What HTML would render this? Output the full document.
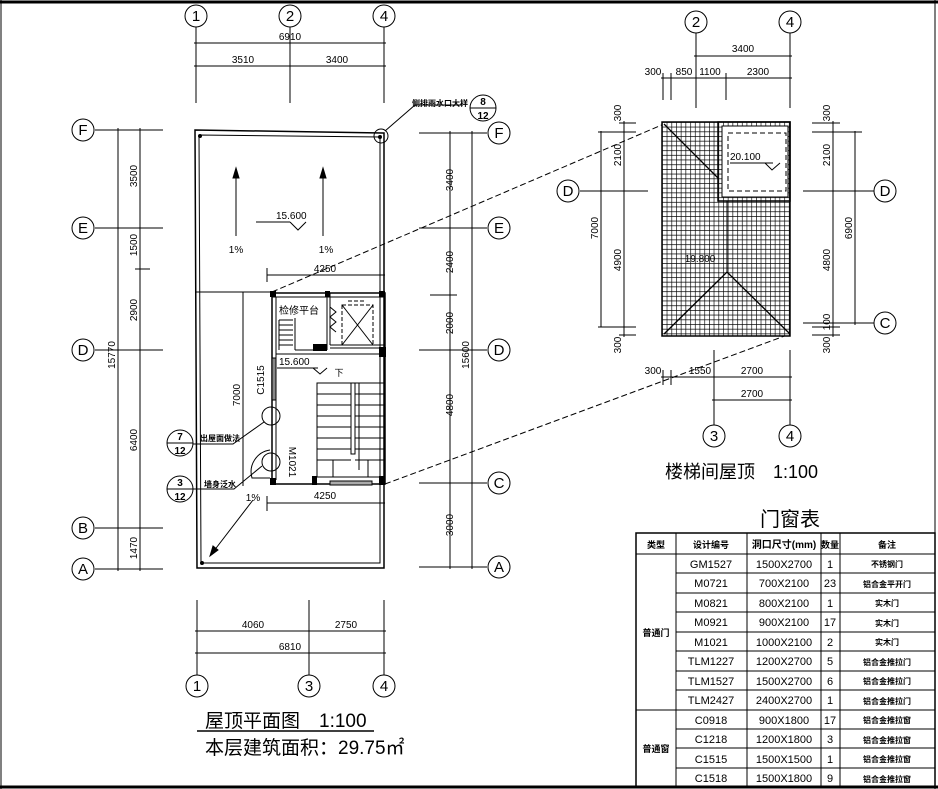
<!DOCTYPE html>
<html><head><meta charset="utf-8"><style>
html,body{margin:0;padding:0;background:#fff}
svg{display:block}
text{font-family:"Liberation Sans","Noto Sans CJK SC",sans-serif;fill:#000}
</style></head><body>
<svg width="938" height="789" viewBox="0 0 938 789" xmlns="http://www.w3.org/2000/svg">
<defs>
<pattern id="tile" x="662" y="122" width="4.7" height="4.7" patternUnits="userSpaceOnUse">
<rect width="4.7" height="4.7" fill="#fff"/>
<path d="M0 0H4.7M0 0V4.7" stroke="#000" stroke-width="1.3"/>
</pattern>
</defs>
<g stroke="#000" fill="none" stroke-width="1">
<line x1="0" y1="2" x2="938" y2="2" stroke-width="3"/>
<line x1="0" y1="787" x2="938" y2="787" stroke-width="3"/>
<line x1="1" y1="0" x2="1" y2="789"/>
<line x1="935" y1="0" x2="935" y2="789"/>

<line x1="196" y1="27" x2="196" y2="103"/>
<line x1="290" y1="27" x2="290" y2="103"/>
<line x1="384" y1="27" x2="384" y2="103"/>
<line x1="194" y1="43" x2="386" y2="43"/>
<line x1="194" y1="66" x2="386" y2="66"/>
<circle cx="196" cy="16" r="11"/><circle cx="290" cy="16" r="11"/><circle cx="384" cy="16" r="11"/>

<path d="M195 130 L384 133 L384 568 L197 568 Z" stroke-width="1.5"/>
<path d="M199 135 L380 137 L380 563 L201 563 Z"/>
<line x1="195" y1="292" x2="272" y2="292"/>
<line x1="243" y1="292" x2="243" y2="486"/>

<g>
<line x1="95" y1="130" x2="163" y2="130"/><line x1="95" y1="228" x2="163" y2="228"/>
<line x1="95" y1="350" x2="163" y2="350"/><line x1="95" y1="528" x2="163" y2="528"/>
<line x1="95" y1="569" x2="163" y2="569"/>
<line x1="118" y1="128" x2="118" y2="571"/><line x1="140" y1="128" x2="140" y2="571"/>
<line x1="135" y1="269" x2="150" y2="269"/>
<circle cx="83" cy="130" r="11"/><circle cx="83" cy="228" r="11"/><circle cx="83" cy="350" r="11"/>
<circle cx="83" cy="528" r="11"/><circle cx="83" cy="569" r="11"/>
</g>
<g>
<line x1="419" y1="133" x2="487" y2="133"/><line x1="419" y1="228" x2="487" y2="228"/>
<line x1="419" y1="350" x2="487" y2="350"/><line x1="419" y1="483" x2="487" y2="483"/>
<line x1="419" y1="567" x2="487" y2="567"/>
<line x1="450" y1="131" x2="450" y2="569"/><line x1="472" y1="131" x2="472" y2="569"/>
<line x1="430" y1="295" x2="457" y2="295"/>
<circle cx="499" cy="133" r="11"/><circle cx="499" cy="228" r="11"/><circle cx="499" cy="350" r="11"/>
<circle cx="499" cy="483" r="11"/><circle cx="499" cy="567" r="11"/>
</g>

<line x1="267" y1="275" x2="385" y2="275"/><line x1="267" y1="268" x2="267" y2="282"/>
<line x1="267" y1="503" x2="385" y2="503"/><line x1="267" y1="496" x2="267" y2="511"/>

<rect x="272" y="293" width="113" height="191" stroke-width="1.5"/>
<line x1="276" y1="297" x2="276" y2="480"/>
<line x1="380" y1="297" x2="380" y2="480"/>
<line x1="272" y1="297" x2="385" y2="297"/>
<line x1="327" y1="293" x2="327" y2="350"/><line x1="330" y1="293" x2="330" y2="345"/>
<line x1="295" y1="350" x2="327" y2="350"/><line x1="295" y1="318" x2="295" y2="350"/>
<line x1="276" y1="354" x2="385" y2="354"/>
<line x1="330" y1="345" x2="385" y2="345"/><line x1="330" y1="348" x2="385" y2="348"/>
<path d="M279 320H293M279 325H293M279 330H293M279 335H293M279 340H293M279 345H293M279 320V350"/>
<path d="M330 307 L336 312 L330 317 L336 322 L330 327 L336 332" />
<rect x="342" y="305" width="31" height="40" stroke-dasharray="4,2"/>
<line x1="342" y1="305" x2="373" y2="345"/><line x1="373" y1="305" x2="342" y2="345"/>
<line x1="348" y1="301" x2="366" y2="301" stroke-dasharray="4,2"/>
<rect x="272" y="358" width="4" height="42" fill="#888"/>
<rect x="317" y="383" width="67" height="94"/>
<rect x="351" y="383" width="4" height="71"/>
<path d="M317 394H351M317 405H351M317 416H351M317 427H351M317 438H351M317 449H351M317 460H351
M355 394H384M355 405H384M355 416H384M355 427H384M355 438H384M355 449H384M355 460H384"/>
<path d="M333 460V477M368 460V477M359 383V470"/>
<rect x="330" y="481" width="42" height="4" fill="#aaa"/>
<g fill="#000" stroke="none">
<rect x="270" y="291" width="6" height="6"/><rect x="325" y="291" width="5" height="6"/>
<rect x="379" y="291" width="6" height="6"/><rect x="313" y="344" width="14" height="7"/>
<rect x="379" y="347" width="7" height="10"/><rect x="270" y="478" width="6" height="7"/>
<rect x="312" y="476" width="5" height="9"/><rect x="379" y="476" width="6" height="9"/>
<circle cx="200" cy="136" r="2"/><circle cx="380" cy="137" r="2"/><circle cx="202" cy="563" r="2"/>
</g>
<path d="M270 450 A22 22 0 0 0 252 478 L270 478" />
<line x1="256" y1="222" x2="290" y2="222"/><path d="M290 222 L298 230 L306 222"/>
<line x1="277" y1="368" x2="318" y2="368"/><path d="M313 368 L320 374 L327 368"/>
<line x1="236" y1="168" x2="236" y2="236"/><path d="M236 168 L233 178 L239 178 Z" fill="#000"/>
<line x1="323" y1="168" x2="323" y2="236"/><path d="M323 168 L320 178 L326 178 Z" fill="#000"/>
<line x1="253" y1="500" x2="210" y2="556"/><path d="M210 556 L213 546 L218 550 Z" fill="#000"/>
<circle cx="381" cy="136" r="7"/>
<path d="M385 131 L415 105 L463 105"/>
<circle cx="483" cy="108" r="13"/><line x1="470" y1="108" x2="496" y2="108"/>
<circle cx="180" cy="443" r="13"/><line x1="167" y1="443" x2="193" y2="443"/>
<path d="M193 444 L233 444 L264 422"/><circle cx="271" cy="416" r="9"/>
<circle cx="180" cy="489" r="13"/><line x1="167" y1="489" x2="193" y2="489"/>
<path d="M193 489 L234 489 L262 466"/><circle cx="271" cy="462" r="9"/>

<line x1="197" y1="600" x2="197" y2="675"/><line x1="309" y1="600" x2="309" y2="675"/>
<line x1="384" y1="600" x2="384" y2="675"/>
<line x1="195" y1="631" x2="386" y2="631"/><line x1="195" y1="653" x2="386" y2="653"/>
<circle cx="197" cy="686" r="11"/><circle cx="309" cy="686" r="11"/><circle cx="384" cy="686" r="11"/>
<line x1="197" y1="731" x2="374" y2="731" stroke-width="1.5"/>

<line x1="272" y1="292" x2="664" y2="124" stroke-dasharray="6,3"/>
<line x1="385" y1="484" x2="790" y2="334" stroke-dasharray="6,3"/>

<rect x="662" y="122" width="128" height="214" fill="url(#tile)" stroke-width="1.5"/>
<rect x="718" y="122" width="72" height="79" fill="url(#tile)" stroke-width="1.5"/>
<rect x="722" y="126" width="66" height="71" fill="#fff"/>
<rect x="728" y="133" width="58" height="58" stroke-dasharray="5,3"/>
<line x1="664" y1="124" x2="718" y2="178" stroke-width="1.3"/>
<path d="M664 334 L727 272 L790 334" stroke-width="1.3"/>
<line x1="727" y1="201" x2="727" y2="272"/>
<line x1="730" y1="163" x2="773" y2="163"/><path d="M765 163 L772 170 L780 163"/>
<circle cx="696" cy="22" r="11"/><circle cx="790" cy="22" r="11"/>
<line x1="696" y1="33" x2="696" y2="108"/><line x1="790" y1="33" x2="790" y2="108"/>
<line x1="694" y1="56" x2="792" y2="56"/>
<line x1="661" y1="78" x2="792" y2="78"/>
<line x1="663" y1="73" x2="663" y2="100"/><line x1="671" y1="73" x2="671" y2="100"/>
<line x1="726" y1="73" x2="726" y2="100"/>
<line x1="714" y1="350" x2="714" y2="425"/><line x1="790" y1="350" x2="790" y2="425"/>
<line x1="661" y1="377" x2="792" y2="377"/><line x1="712" y1="400" x2="792" y2="400"/>
<line x1="663" y1="370" x2="663" y2="385"/><line x1="671" y1="370" x2="671" y2="385"/>
<circle cx="714" cy="436" r="11"/><circle cx="790" cy="436" r="11"/>
<line x1="580" y1="191" x2="648" y2="191"/>
<line x1="601" y1="131" x2="601" y2="327"/><line x1="624" y1="121" x2="624" y2="337"/>
<path d="M598 132H636M619 123H636M598 327H636M619 335H636"/>
<circle cx="568" cy="191" r="11"/>
<line x1="803" y1="191" x2="874" y2="191"/><line x1="803" y1="323" x2="874" y2="323"/>
<line x1="833" y1="121" x2="833" y2="337"/><line x1="855" y1="131" x2="855" y2="325"/>
<path d="M812 132H862M812 123H840M812 327H840M812 335H840"/>
<circle cx="885" cy="191" r="11"/><circle cx="885" cy="323" r="11"/>

<rect x="636" y="533" width="299" height="254" stroke-width="1.5"/>
<line x1="636" y1="554" x2="935" y2="554"/>
<path d="M676 533V787M747 533V787M821 533V787M840 533V787"/>
<path d="M676 573H935M676 593H935M676 612H935M676 632H935M676 651H935M676 671H935M676 690H935M676 729H935M676 748H935M676 768H935"/>
<line x1="636" y1="710" x2="935" y2="710"/>
</g>

<g font-size="10" text-anchor="middle">
<g font-family="Liberation Serif,serif" font-size="15">
<text x="196" y="21">1</text><text x="290" y="21">2</text><text x="384" y="21">4</text>
<text x="83" y="135">F</text><text x="83" y="233">E</text><text x="83" y="355">D</text><text x="83" y="533">B</text><text x="83" y="574">A</text>
<text x="499" y="138">F</text><text x="499" y="233">E</text><text x="499" y="355">D</text><text x="499" y="488">C</text><text x="499" y="572">A</text>
<text x="197" y="691">1</text><text x="309" y="691">3</text><text x="384" y="691">4</text>
<text x="696" y="27">2</text><text x="790" y="27">4</text>
<text x="714" y="441">3</text><text x="790" y="441">4</text>
<text x="568" y="196">D</text><text x="885" y="196">D</text><text x="885" y="328">C</text>
</g>
<text x="290" y="40">6910</text>
<text x="243" y="63">3510</text><text x="337" y="63">3400</text>
<text x="236" y="253">1%</text><text x="326" y="253">1%</text>
<text x="325" y="272">4250</text><text x="325" y="499">4250</text>
<text x="253" y="501">1%</text>
<text x="253" y="628">4060</text><text x="346" y="628">2750</text><text x="290" y="650">6810</text>
<text x="299" y="314" fill="#777">检修平台</text>
<text x="276" y="219" text-anchor="start">15.600</text>
<text x="279" y="365" text-anchor="start">15.600</text>
<text x="339" y="376" font-size="9">下</text>
<g font-size="8" font-weight="bold">
<text x="440" y="106">侧排雨水口大样</text>
<text x="220" y="441">出屋面做法</text>
<text x="220" y="487">墙身泛水</text>
</g>
<g font-size="10" font-weight="bold">
<text x="483" y="105">8</text><text x="483" y="119">12</text>
<text x="180" y="440">7</text><text x="180" y="454">12</text>
<text x="180" y="486">3</text><text x="180" y="500">12</text>
</g>
<text transform="translate(137,176) rotate(-90)">3500</text>
<text transform="translate(137,245) rotate(-90)">1500</text>
<text transform="translate(137,310) rotate(-90)">2900</text>
<text transform="translate(115,355) rotate(-90)">15770</text>
<text transform="translate(137,440) rotate(-90)">6400</text>
<text transform="translate(137,548) rotate(-90)">1470</text>
<text transform="translate(453,180) rotate(-90)">3400</text>
<text transform="translate(453,262) rotate(-90)">2400</text>
<text transform="translate(453,323) rotate(-90)">2000</text>
<text transform="translate(469,355) rotate(-90)">15600</text>
<text transform="translate(453,405) rotate(-90)">4800</text>
<text transform="translate(453,525) rotate(-90)">3000</text>
<text transform="translate(240,395) rotate(-90)">7000</text>
<text transform="translate(264,380) rotate(-90)">C1515</text>
<text transform="translate(289,462) rotate(90)">M1021</text>
<text x="743" y="52">3400</text>
<text x="653" y="75">300</text><text x="684" y="75">850</text><text x="710" y="75">1100</text><text x="758" y="75">2300</text>
<text x="653" y="374">300</text><text x="700" y="374">1550</text><text x="752" y="374">2700</text><text x="752" y="397">2700</text>
<text transform="translate(621,113) rotate(-90)">300</text>
<text transform="translate(621,155) rotate(-90)">2100</text>
<text transform="translate(598,228) rotate(-90)">7000</text>
<text transform="translate(621,260) rotate(-90)">4900</text>
<text transform="translate(621,345) rotate(-90)">300</text>
<text transform="translate(830,113) rotate(-90)">300</text>
<text transform="translate(830,155) rotate(-90)">2100</text>
<text transform="translate(830,260) rotate(-90)">4800</text>
<text transform="translate(852,228) rotate(-90)">6900</text>
<text transform="translate(830,322) rotate(-90)">100</text>
<text transform="translate(830,345) rotate(-90)">300</text>
<text x="730" y="160" text-anchor="start">20.100</text>
<text x="700" y="262">19.800</text>
</g>

<text x="205" y="727" font-size="19">屋顶平面图　1:100</text>
<text x="205" y="754" font-size="19">本层建筑面积：29.75㎡</text>
<text x="665" y="478" font-size="18">楼梯间屋顶　1:100</text>
<text x="790" y="526" font-size="20" text-anchor="middle">门窗表</text>

<g font-size="11" text-anchor="middle">
<g font-size="9" font-weight="bold">
<text x="656" y="548">类型</text><text x="711" y="548">设计编号</text><text x="830" y="548">数量</text><text x="887" y="548">备注</text>
</g>
<text x="784" y="548" font-size="10" font-weight="bold">洞口尺寸(mm)</text>
<g font-size="9" font-weight="bold"><text x="656" y="636">普通门</text><text x="656" y="752">普通窗</text></g>
<g>
<text x="711" y="568">GM1527</text><text x="784" y="568">1500X2700</text><text x="830" y="568">1</text>
<text x="711" y="587">M0721</text><text x="784" y="587">700X2100</text><text x="830" y="587">23</text>
<text x="711" y="607">M0821</text><text x="784" y="607">800X2100</text><text x="830" y="607">1</text>
<text x="711" y="626">M0921</text><text x="784" y="626">900X2100</text><text x="830" y="626">17</text>
<text x="711" y="646">M1021</text><text x="784" y="646">1000X2100</text><text x="830" y="646">2</text>
<text x="711" y="665">TLM1227</text><text x="784" y="665">1200X2700</text><text x="830" y="665">5</text>
<text x="711" y="685">TLM1527</text><text x="784" y="685">1500X2700</text><text x="830" y="685">6</text>
<text x="711" y="704">TLM2427</text><text x="784" y="704">2400X2700</text><text x="830" y="704">1</text>
<text x="711" y="724">C0918</text><text x="784" y="724">900X1800</text><text x="830" y="724">17</text>
<text x="711" y="743">C1218</text><text x="784" y="743">1200X1800</text><text x="830" y="743">3</text>
<text x="711" y="763">C1515</text><text x="784" y="763">1500X1500</text><text x="830" y="763">1</text>
<text x="711" y="782">C1518</text><text x="784" y="782">1500X1800</text><text x="830" y="782">9</text>
</g>
<g font-size="8" font-weight="bold">
<text x="887" y="567">不锈钢门</text><text x="887" y="587">铝合金平开门</text><text x="887" y="606">实木门</text>
<text x="887" y="626">实木门</text><text x="887" y="645">实木门</text><text x="887" y="665">铝合金推拉门</text>
<text x="887" y="684">铝合金推拉门</text><text x="887" y="704">铝合金推拉门</text><text x="887" y="723">铝合金推拉窗</text>
<text x="887" y="743">铝合金推拉窗</text><text x="887" y="762">铝合金推拉窗</text><text x="887" y="782">铝合金推拉窗</text>
</g>
</g>
</svg>
</body></html>
